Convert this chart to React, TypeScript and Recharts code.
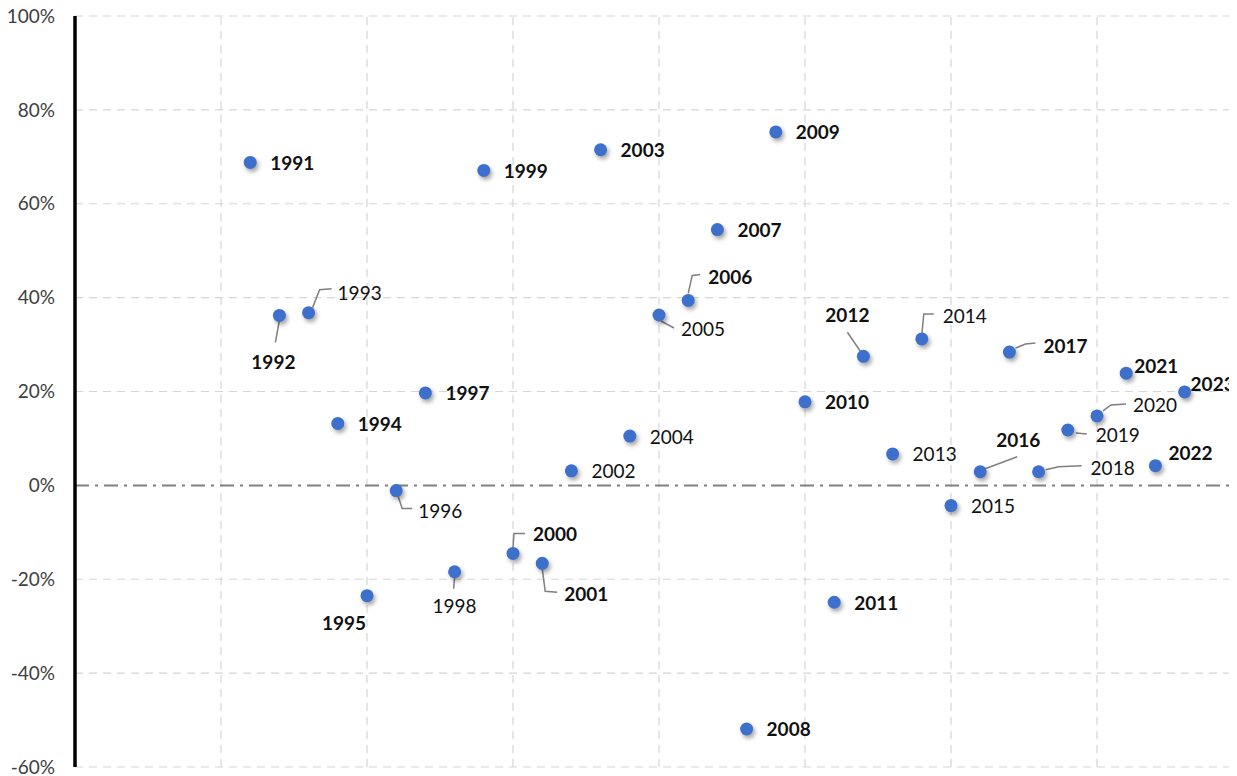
import React from "react";
import {
  ScatterChart,
  Scatter,
  XAxis,
  YAxis,
  CartesianGrid,
  ReferenceLine,
} from "recharts";

// ---- data ----
const years = [
  1991, 1992, 1993, 1994, 1995, 1996, 1997, 1998, 1999, 2000, 2001, 2002,
  2003, 2004, 2005, 2006, 2007, 2008, 2009, 2010, 2011, 2012, 2013, 2014,
  2015, 2016, 2017, 2018, 2019, 2020, 2021, 2022, 2023,
];
const returnsPct = [
  68.8, 36.2, 36.8, 13.2, -23.5, -1.1, 19.7, -18.4, 67.1, -14.5, -16.6, 3.1,
  71.5, 10.5, 36.3, 39.4, 54.5, -51.9, 75.3, 17.8, -24.9, 27.5, 6.7, 31.2,
  -4.3, 2.9, 28.4, 2.9, 11.8, 14.8, 23.9, 4.2, 19.9,
];
const yTicks = [-60, -40, -20, 0, 20, 40, 60, 80, 100];
const xTicks = [1985, 1990, 1995, 2000, 2005, 2010, 2015, 2020, 2025];

// ---- label layout (styling only) ----
type Layout = {
  dx: number;
  dy: number;
  anchor?: "start" | "middle" | "end";
  leader?: [number, number][];
};
const labelLayout: Record<number, Layout> = {
  1992: { dx: -6, dy: 46, anchor: "middle", leader: [[0, 5], [-4, 27]] },
  1993: { dx: 29, dy: -20, leader: [[4, -5], [11, -23], [23, -24]] },
  1995: { dx: -23, dy: 27, anchor: "middle" },
  1996: { dx: 22, dy: 20, leader: [[1, 3], [6, 18], [16, 18]] },
  1998: { dx: 0, dy: 34, anchor: "middle", leader: [[0, 6], [-1, 17]] },
  2000: { dx: 20, dy: -20, leader: [[0, -6], [1, -20], [12, -20]] },
  2001: { dx: 22, dy: 30, leader: [[0, 5], [3, 28], [15, 29]] },
  2005: { dx: 22, dy: 14, leader: [[2, 6], [15, 13]] },
  2006: { dx: 20, dy: -24, leader: [[0, -7], [4, -25], [12, -26]] },
  2012: { dx: -16, dy: -42, anchor: "middle", leader: [[-3, -5], [-16, -24]] },
  2014: { dx: 21, dy: -23, leader: [[0, -4], [2, -25], [12, -25]] },
  2016: { dx: 38, dy: -32, anchor: "middle", leader: [[5, -3], [37, -15]] },
  2017: { dx: 34, dy: -7, leader: [[6, -4], [16, -8], [26, -9]] },
  2018: { dx: 52, dy: -4, leader: [[7, -2], [20, -5], [43, -6]] },
  2019: { dx: 28, dy: 5, leader: [[8, 3], [19, 4]] },
  2020: { dx: 36, dy: -11, leader: [[6, -5], [14, -11], [29, -12]] },
  2021: { dx: 8, dy: -8 },
  2022: { dx: 13, dy: -13 },
  2023: { dx: 6, dy: -8 },
};
const lightLabels = new Set([
  1993, 1996, 1998, 2002, 2004, 2005, 2013, 2014, 2015, 2018, 2019, 2020,
]);

const points = years.map((y, i) => ({ year: y, value: returnsPct[i] }));

const FONT = "Lato, 'Open Sans', sans-serif";
const GRID = "#d6d6d6";
const GRID_DASH = "8 6";

const PointShape = (props: any) => {
  const { cx, cy, payload } = props;
  if (cx == null || cy == null) return null;
  const year = payload.year as number;
  const lay: Layout = labelLayout[year] || { dx: 20, dy: 0 };
  const pts = lay.leader
    ? lay.leader.map(([x, y]) => `${cx + x},${cy + y}`).join(" ")
    : null;
  return (
    <g>
      {pts && (
        <polyline
          points={pts}
          fill="none"
          stroke="#7f7f7f"
          strokeWidth={1.5}
        />
      )}
      <circle
        cx={cx}
        cy={cy}
        r={6.5}
        fill="#3d6fcc"
        style={{ filter: "drop-shadow(2px 3px 2px rgba(0,0,0,0.35))" }}
      />
      <text
        x={cx + lay.dx}
        y={cy + lay.dy}
        textAnchor={lay.anchor || "start"}
        dominantBaseline="central"
        fontFamily={FONT}
        fontSize={19}
        fontWeight={lightLabels.has(year) ? 400 : 700}
        fill="#111"
      >
        {year}
      </text>
    </g>
  );
};

export default function App() {
  return (
    <div
      style={{ width: 1229, height: 776, marginTop: -8, overflow: "hidden" }}
    >
      <ScatterChart
        width={1240}
        height={776}
        margin={{ top: 16, right: 5, bottom: 9, left: 0 }}
      >
        <CartesianGrid
          stroke={GRID}
          strokeDasharray={GRID_DASH}
          strokeWidth={1.2}
          horizontal={false}
        />
        <XAxis
          type="number"
          dataKey="year"
          domain={[1985, 2025]}
          ticks={xTicks}
          tick={false}
          tickLine={false}
          axisLine={false}
          height={0}
        />
        <YAxis
          type="number"
          dataKey="value"
          domain={[-60, 100]}
          ticks={yTicks}
          interval={0}
          width={67}
          tickLine={false}
          tickSize={6}
          tickMargin={14}
          axisLine={false}
          tickFormatter={(v: number) => `${v}%`}
          tick={{ fontFamily: FONT, fontSize: 19, fill: "#404040" }}
        />
        {xTicks.slice(1).map((t) => (
          <ReferenceLine
            key={"v" + t}
            x={t}
            stroke={GRID}
            strokeWidth={1.2}
            strokeDasharray={GRID_DASH}
          />
        ))}
        {yTicks
          .filter((t) => t !== 0)
          .map((t) => (
            <ReferenceLine
              key={"h" + t}
              y={t}
              stroke={GRID}
              strokeWidth={1.2}
              strokeDasharray={GRID_DASH}
            />
          ))}
        <ReferenceLine
          y={0}
          stroke="#808080"
          strokeWidth={2}
          strokeDasharray="14 6 3 6"
        />
        <ReferenceLine x={1985} stroke="#000" strokeWidth={3.5} />
        <Scatter
          data={points}
          shape={PointShape}
          isAnimationActive={false}
        />
      </ScatterChart>
    </div>
  );
}
